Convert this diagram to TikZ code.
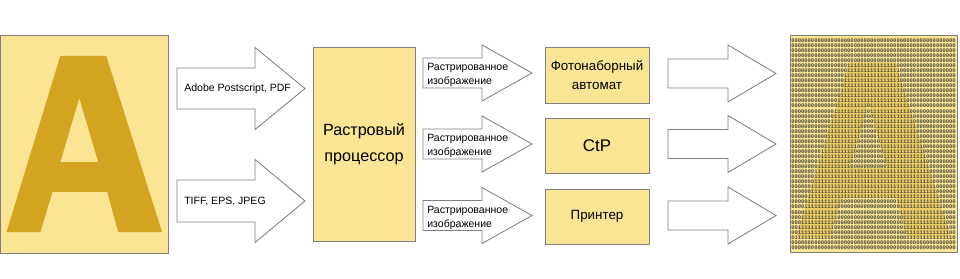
\documentclass[tikz,border=0pt]{standalone}
\usepackage{fontspec}
\setmainfont{Liberation Sans}
\setmonofont{Liberation Mono}

\definecolor{paleyellow}{HTML}{F9E594}
\definecolor{goldA}{HTML}{D4A420}
\definecolor{edgegray}{HTML}{7F7F7F}
\definecolor{bitgray}{HTML}{4A4538}

% outline of the letter A in box units (0..1)
\tikzset{
  Aletter/.style={insert path={
    (0.357,0.096) -- (0.631,0.096) -- (0.964,0.904) -- (0.702,0.904)
    -- (0.637,0.720) -- (0.310,0.720) -- (0.238,0.904) -- (0.036,0.904) -- cycle
    (0.470,0.289) -- (0.583,0.583) -- (0.357,0.583) -- cycle}}
}

% block arrow: x0, y centre, x head, x tip, half shaft, half head
\newcommand{\blockarrow}[6]{%
  \draw[arrowshape] (#1,#2-#5) -- (#3,#2-#5) -- (#3,#2-#6) -- (#4,#2)
    -- (#3,#2+#6) -- (#3,#2+#5) -- (#1,#2+#5) -- cycle;}

\begin{document}
\begin{tikzpicture}[x=0.25mm,y=-0.25mm,
  panel/.style={draw=edgegray,fill=paleyellow,line width=0.7pt,inner sep=0pt},
  arrowshape/.style={draw=edgegray,fill=white,line width=0.6pt},
  inlbl/.style={font=\fontsize{7.5}{10}\selectfont,anchor=west,align=left,inner sep=0pt},
  devlbl/.style={font=\fontsize{9.5}{13}\selectfont,align=center},
  bits/.style={font=\fontsize{3.9}{4}\selectfont\ttfamily\bfseries,text=bitgray,inner sep=0pt},
  declare function={
    aL(\vv)=0.357-(\vv-0.096)*0.397;
    aR(\vv)=0.631+(\vv-0.096)*0.412;
    hL(\vv)=0.470-(\vv-0.289)*0.384;
    hR(\vv)=0.470+(\vv-0.289)*0.384;
    gL(\vv)=0.310-(\vv-0.720)*0.390;
    gR(\vv)=0.637+(\vv-0.720)*0.353;
    inA(\uu,\vv)=and(and(\vv>=0.096,\vv<=0.904),and(\uu>=aL(\vv),\uu<=aR(\vv)))
      *(1-and(and(\vv>0.289,\vv<0.583),and(\uu>hL(\vv),\uu<hR(\vv))))
      *(1-and(\vv>0.720,and(\uu>gL(\vv),\uu<gR(\vv))));
  }
]
\useasboundingbox (0,0) rectangle (960,279);

% ---- source image ----
\node[panel,minimum width=41.9mm,minimum height=54.5mm] (src) at (84.3,144) {};
\begin{scope}[shift={(0.5,35)},x=41.9mm,y=-54.5mm]
  \fill[goldA,even odd rule,Aletter];
\end{scope}

% ---- input arrows ----
\blockarrow{177}{88.5}{255}{305}{20.5}{41}
\blockarrow{177}{201}{255}{305}{21}{41.5}
\node[inlbl] (inps) at (184,89) {Adobe Postscript, PDF};
\node[inlbl] (inbmp) at (184,201) {TIFF, EPS, JPEG};

% ---- RIP ----
\node[panel,minimum width=25.5mm,minimum height=48.5mm,
  font=\fontsize{11.5}{18.5}\selectfont,align=center] (rip) at (364,144)
  {Растровый\\процессор};

% ---- raster arrows ----
\foreach \yc/\nm in {73/ra,144/rb,215.5/rc}{
  \blockarrow{423}{\yc}{482}{532}{15}{28}
  \node[inlbl] (\nm) at (427,\yc+2) {Растрированное\\изображение};
}

% ---- output devices ----
\node[panel,devlbl,minimum width=26mm,minimum height=14mm] (phot) at (597,75)
  {Фотонаборный\\автомат};
\node[panel,minimum width=26mm,minimum height=13.75mm,
  font=\fontsize{12}{14}\selectfont] (ctp) at (597,145.5) {CtP};
\node[panel,devlbl,minimum width=26mm,minimum height=13.75mm] (prn) at (597,216.5)
  {Принтер};

% ---- output arrows ----
\foreach \yc in {73.5,144,215.5}{
  \blockarrow{668}{\yc}{728}{776}{14.5}{28.5}
}

% ---- bitmap result ----
\node[panel,minimum width=41.75mm,minimum height=54.25mm] (bmp) at (873.5,143.5) {};
\begin{scope}[shift={(790,41.5)},x=41.75mm,y=-54.25mm]
  \fill[goldA,opacity=0.4,even odd rule,Aletter];
\end{scope}
\foreach \r in {0,...,41}{
  \gdef\bitrow{}
  \foreach \c in {0,...,49}{
    \pgfmathtruncatemacro\bit{inA((\c+0.5)/50*0.98+0.01,(5.5+\r*5.05)/217-0.03)}
    \xdef\bitrow{\bitrow\bit}
  }
  \node[bits] (row\r) at (873.5,40.5+\r*5.05) {\bitrow};
}
\end{tikzpicture}
\end{document}
